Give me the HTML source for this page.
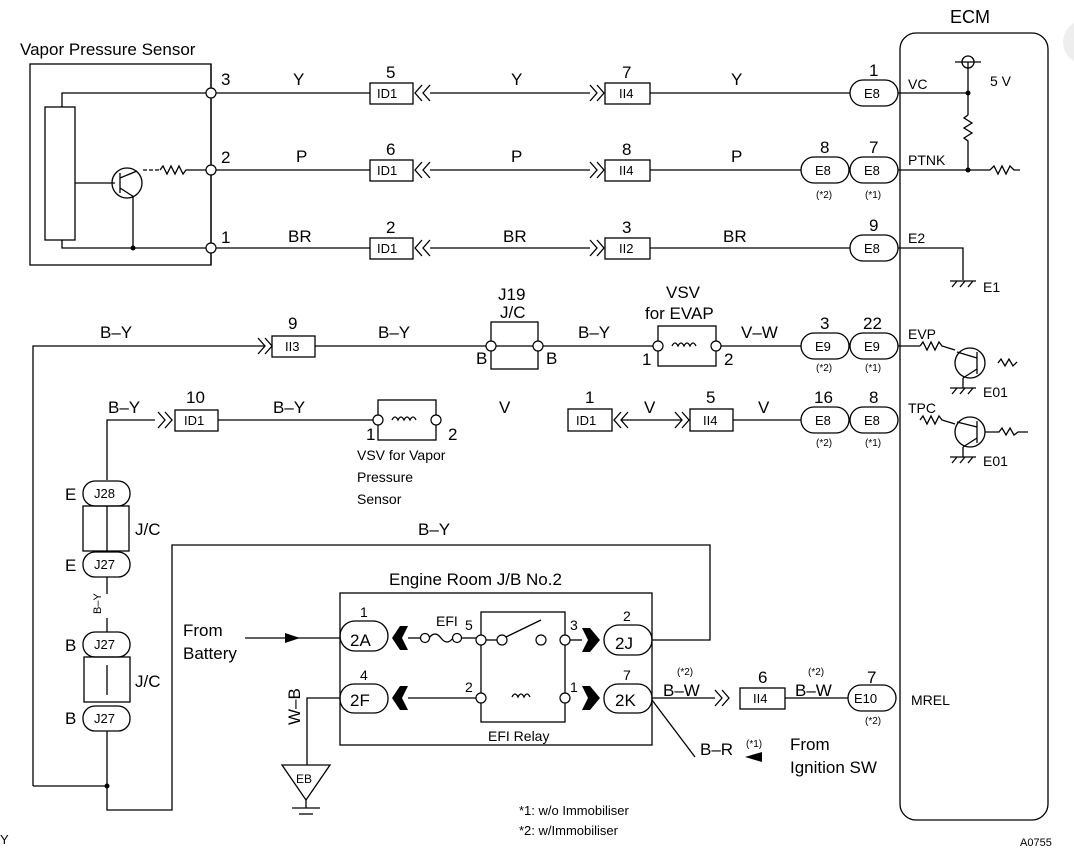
<!DOCTYPE html>
<html><head><meta charset="utf-8"><style>
html,body{margin:0;padding:0;background:#fff;}
svg{display:block;font-family:"Liberation Sans",sans-serif;}
text{fill:#000;}
</style></head><body>
<svg width="1074" height="857" viewBox="0 0 1074 857" xmlns="http://www.w3.org/2000/svg">
<g stroke="#000" stroke-width="1.3" fill="none">
<rect x="30" y="64" width="181" height="201"/>
<rect x="45" y="107" width="30" height="133"/>
<polyline points="62,107 62,93 211,93"/>
<polyline points="62,240 62,248 211,248"/>
<line x1="75" y1="183" x2="115" y2="183"/>
<circle cx="127" cy="183" r="15"/>
<line x1="120" y1="173" x2="120" y2="193"/>
<line x1="120" y1="178" x2="137" y2="171"/>
<line x1="120" y1="188" x2="134" y2="197"/>
<line x1="133" y1="197" x2="133" y2="248"/>
<line x1="143" y1="170" x2="160" y2="170" stroke-dasharray="4,2"/>
<polyline points="160,170 163,166 167,174 171,166 175,174 179,166 183,174 186,170 211,170"/>
<line x1="211" y1="64" x2="211" y2="265"/>
<line x1="211" y1="93" x2="370" y2="93"/><line x1="211" y1="170" x2="370" y2="170"/><line x1="211" y1="248" x2="370" y2="248"/>
<line x1="430" y1="93" x2="590" y2="93"/><line x1="430" y1="170" x2="590" y2="170"/><line x1="430" y1="248" x2="590" y2="248"/>
<line x1="650" y1="93" x2="850" y2="93"/><line x1="650" y1="170" x2="801" y2="170"/><line x1="650" y1="248" x2="850" y2="248"/>
<rect x="370" y="83" width="43" height="21"/><rect x="370" y="160" width="43" height="21"/><rect x="370" y="238" width="43" height="21"/>
<rect x="605" y="83" width="45" height="21"/><rect x="605" y="160" width="45" height="21"/><rect x="605" y="238" width="45" height="21"/>
<path d="M422,85 L415,93 L422,101 M430,85 L423,93 L430,101"/>
<path d="M422,162 L415,170 L422,178 M430,162 L423,170 L430,178"/>
<path d="M422,240 L415,248 L422,256 M430,240 L423,248 L430,256"/>
<path d="M590,85 L597,93 L590,101 M597,85 L604,93 L597,101"/>
<path d="M590,162 L597,170 L590,178 M597,162 L604,170 L597,178"/>
<path d="M590,240 L597,248 L590,256 M597,240 L604,248 L597,256"/>
<rect x="850" y="80" width="48" height="26" rx="13"/>
<rect x="801" y="157" width="48" height="26" rx="13"/><rect x="850" y="157" width="48" height="26" rx="13"/>
<rect x="850" y="235" width="48" height="26" rx="13"/>
<rect x="900" y="33" width="148" height="787" rx="16"/>
<line x1="898" y1="93" x2="968" y2="93"/>
<line x1="968" y1="62" x2="968" y2="115"/>
<circle cx="968" cy="62" r="6"/><line x1="955" y1="62" x2="981" y2="62"/>
<polyline points="968,115 964,118 972,123 964,128 972,133 964,138 968,141 968,170"/>
<line x1="898" y1="170" x2="990" y2="170"/>
<polyline points="990,170 994,166 998,174 1002,166 1006,174 1010,166 1014,170 1020,170"/>
<polyline points="898,248 963,248 963,280"/>
<line x1="950" y1="281" x2="976" y2="281"/><path d="M952,287 l5,-6 M960,287 l5,-6 M968,287 l5,-6"/>
<line x1="898" y1="346" x2="920" y2="346"/>
<polyline points="920,346 923,342 927,350 931,342 935,350 939,342 942,346 955,350"/>
<circle cx="970" cy="363" r="15"/><line x1="977" y1="352" x2="977" y2="374"/>
<line x1="977" y1="358" x2="957" y2="352"/><line x1="977" y1="369" x2="963" y2="378"/>
<line x1="963" y1="378" x2="963" y2="388"/><line x1="950" y1="388" x2="976" y2="388"/><path d="M952,394 l5,-6 M960,394 l5,-6 M968,394 l5,-6"/>
<polyline points="998,363 1001,359 1005,366 1009,359 1013,366 1017,362"/>
<polyline points="920,420 923,416 927,424 931,416 935,424 939,416 942,420 955,424"/>
<circle cx="970" cy="432" r="15"/><line x1="977" y1="421" x2="977" y2="443"/>
<line x1="977" y1="427" x2="957" y2="422"/><line x1="977" y1="438" x2="963" y2="447"/>
<line x1="963" y1="447" x2="963" y2="457"/><line x1="950" y1="457" x2="976" y2="457"/><path d="M952,463 l5,-6 M960,463 l5,-6 M968,463 l5,-6"/>
<polyline points="985,432 999,432 1002,428 1006,435 1010,428 1014,435 1018,432 1028,432"/>
<polyline points="33,786 33,346 265,346"/>
<path d="M258,338 L265,346 L258,354 M265,338 L272,346 L265,354"/>
<rect x="272" y="336" width="43" height="21"/>
<line x1="315" y1="346" x2="491" y2="346"/>
<rect x="491" y="322" width="47" height="47"/>
<line x1="491" y1="346" x2="538" y2="346"/>
<line x1="538" y1="346" x2="658" y2="346"/>
<rect x="658" y="326" width="58" height="40"/>
<line x1="716" y1="346" x2="801" y2="346"/>
<path d="M672,346 q3,-6 6,0 q3,-6 6,0 q3,-6 6,0 q3,-6 6,0"/>
<rect x="801" y="333" width="48" height="26" rx="13"/><rect x="850" y="333" width="48" height="26" rx="13"/>
<polyline points="107,480 107,420 155,420"/>
<path d="M158,412 L165,420 L158,428 M165,412 L172,420 L165,428"/>
<rect x="175" y="410" width="43" height="21"/>
<line x1="218" y1="420" x2="378" y2="420"/>
<rect x="378" y="400" width="58" height="40"/>
<path d="M392,420 q3,-6 6,0 q3,-6 6,0 q3,-6 6,0 q3,-6 6,0"/>
<rect x="568" y="409" width="44" height="22"/>
<path d="M621,412 L614,420 L621,428 M628,412 L621,420 L628,428"/>
<line x1="621" y1="420" x2="682" y2="420"/>
<path d="M675,412 L682,420 L675,428 M682,412 L689,420 L682,428"/>
<rect x="690" y="409" width="43" height="22"/>
<line x1="733" y1="420" x2="801" y2="420"/>
<rect x="801" y="407" width="48" height="26" rx="13"/><rect x="850" y="407" width="48" height="26" rx="13"/>
<rect x="83" y="481" width="47" height="25" rx="12"/>
<rect x="83" y="506" width="46" height="45"/>
<rect x="83" y="552" width="47" height="25" rx="12"/>
<rect x="83" y="632" width="47" height="25" rx="12"/>
<rect x="84" y="657" width="46" height="45"/>
<rect x="83" y="706" width="47" height="25" rx="12"/>
<line x1="107" y1="506" x2="107" y2="551"/><line x1="107" y1="577" x2="107" y2="594"/><line x1="107" y1="618" x2="107" y2="632"/>
<line x1="107" y1="665" x2="107" y2="695"/>
<polyline points="107,731 107,810 172,810 172,545 710,545 710,640 652,640"/>
<line x1="33" y1="786" x2="107" y2="786"/>
<rect x="340" y="593" width="312" height="152"/>
<rect x="340" y="621" width="48" height="30" rx="15"/>
<rect x="340" y="684" width="48" height="29" rx="14"/>
<rect x="604" y="625" width="48" height="30" rx="15"/>
<rect x="604" y="684" width="48" height="29" rx="14"/>
<rect x="481" y="612" width="84" height="110"/>
<line x1="245" y1="638" x2="340" y2="638"/>
<line x1="408" y1="638" x2="421" y2="638"/>
<path d="M429,638 q6,-8 12,0 q6,8 12,0"/>
<line x1="461" y1="638" x2="476" y2="638"/>
<line x1="486" y1="640" x2="497" y2="640"/>
<line x1="506" y1="637" x2="541" y2="620"/>
<line x1="570" y1="640" x2="582" y2="640"/>
<line x1="408" y1="698" x2="476" y2="698"/>
<path d="M512,697 q3,-6 6,0 q3,-6 6,0 q3,-6 6,0"/>
<polyline points="340,698 307,698 307,765"/>
<polygon points="282,765 330,765 306,800"/>
<line x1="306" y1="800" x2="306" y2="808"/><line x1="292" y1="808" x2="320" y2="808"/><line x1="299" y1="814" x2="313" y2="814"/>
<line x1="652" y1="698" x2="715" y2="698"/>
<path d="M715,690 L722,698 L715,706 M722,690 L729,698 L722,706"/>
<rect x="740" y="688" width="45" height="21"/>
<line x1="785" y1="698" x2="848" y2="698"/>
<rect x="848" y="685" width="48" height="26" rx="13"/>
<line x1="652" y1="700" x2="695" y2="757"/>
</g>
<g fill="#fff" stroke="#000" stroke-width="1.2">
<circle cx="211" cy="93" r="5"/><circle cx="211" cy="170" r="5"/><circle cx="211" cy="248" r="5"/>
<circle cx="491" cy="346" r="5"/><circle cx="538" cy="346" r="5"/>
<circle cx="658" cy="346" r="5"/><circle cx="716" cy="346" r="5"/>
<circle cx="378" cy="420" r="5"/><circle cx="436" cy="420" r="5"/>
<circle cx="425" cy="638" r="4.5"/><circle cx="457" cy="638" r="4.5"/>
<circle cx="481" cy="640" r="5"/><circle cx="502" cy="640" r="5"/><circle cx="541" cy="640" r="5"/><circle cx="565" cy="640" r="5"/>
<circle cx="481" cy="698" r="5"/><circle cx="565" cy="698" r="5"/>
</g>
<g fill="#000" stroke="none">
<circle cx="133" cy="248" r="2.5"/><circle cx="968" cy="93" r="2.5"/><circle cx="968" cy="170" r="2.5"/><circle cx="107" cy="786" r="2.5"/>
<polygon points="392,638 400,626 408,626 402,638 408,650 400,650"/>
<polygon points="392,698 400,686 408,686 402,698 408,710 400,710"/>
<polygon points="582,628 590,628 600,640 590,652 582,652 588,640"/>
<polygon points="582,686 590,686 600,698 590,710 582,710 588,698"/>
<polygon points="285,633 300,638 285,643"/>
<polygon points="745,757 762,752 762,762"/>
</g>
<circle cx="1085" cy="42" r="22" fill="#eee"/>
<g font-size="17">
<text x="20" y="55">Vapor Pressure Sensor</text>
<text x="221" y="85">3</text><text x="221" y="163">2</text><text x="221" y="243">1</text>
<text x="293" y="85">Y</text><text x="296" y="162">P</text><text x="288" y="242">BR</text>
<text x="511" y="85">Y</text><text x="511" y="162">P</text><text x="503" y="242">BR</text>
<text x="731" y="85">Y</text><text x="731" y="162">P</text><text x="723" y="242">BR</text>
<text x="386" y="78">5</text><text x="386" y="155">6</text><text x="386" y="233">2</text>
<text x="622" y="78">7</text><text x="622" y="155">8</text><text x="622" y="233">3</text>
<text x="869" y="76">1</text><text x="820" y="153">8</text><text x="869" y="153">7</text><text x="869" y="231">9</text>
<text x="950" y="23" font-size="18">ECM</text>
<text x="100" y="338">B–Y</text><text x="378" y="338">B–Y</text><text x="578" y="338">B–Y</text>
<text x="288" y="329">9</text>
<text x="498" y="300">J19</text><text x="500" y="318">J/C</text>
<text x="476" y="364">B</text><text x="546" y="364">B</text>
<text x="666" y="298">VSV</text><text x="645" y="319">for EVAP</text>
<text x="642" y="365">1</text><text x="724" y="365">2</text>
<text x="741" y="338">V–W</text>
<text x="820" y="329">3</text><text x="863" y="329">22</text>
<text x="108" y="413">B–Y</text><text x="273" y="413">B–Y</text>
<text x="186" y="403">10</text>
<text x="366" y="440">1</text><text x="448" y="440">2</text>
<text x="499" y="413">V</text>
<text x="585" y="403">1</text><text x="644" y="413">V</text><text x="706" y="403">5</text><text x="758" y="413">V</text>
<text x="814" y="403">16</text><text x="869" y="403">8</text>
<text x="65" y="500">E</text><text x="65" y="571">E</text><text x="65" y="651">B</text><text x="65" y="724">B</text>
<text x="135" y="535">J/C</text><text x="135" y="687">J/C</text>
<text x="418" y="535">B–Y</text>
<text x="389" y="585">Engine Room J/B No.2</text>
<text x="183" y="636">From</text><text x="183" y="659">Battery</text>
<text x="350" y="646">2A</text><text x="350" y="706">2F</text><text x="615" y="649">2J</text><text x="615" y="706">2K</text>
<text x="663" y="696">B–W</text><text x="795" y="696">B–W</text>
<text x="758" y="683">6</text><text x="867" y="683">7</text>
<text x="700" y="755">B–R</text>
<text x="790" y="750">From</text><text x="790" y="773">Ignition SW</text>
<text x="300" y="725" transform="rotate(-90 300 725)">W–B</text>
</g>
<g font-size="14">
<text x="908" y="89">VC</text><text x="990" y="86">5 V</text><text x="908" y="165">PTNK</text><text x="908" y="243">E2</text>
<text x="983" y="292">E1</text><text x="908" y="339">EVP</text><text x="983" y="397">E01</text>
<text x="908" y="413">TPC</text><text x="983" y="466">E01</text>
<text x="911" y="705">MREL</text>
<text x="436" y="626">EFI</text><text x="465" y="630">5</text><text x="570" y="630">3</text>
<text x="465" y="692">2</text><text x="570" y="692">1</text>
<text x="360" y="617">1</text><text x="360" y="680">4</text><text x="623" y="621">2</text><text x="623" y="680">7</text>
<text x="488" y="741">EFI Relay</text>
<text x="357" y="460">VSV for Vapor</text><text x="357" y="482">Pressure</text><text x="357" y="504">Sensor</text>
<text x="296" y="783" font-size="12">EB</text>
<text x="377" y="98" font-size="13">ID1</text><text x="377" y="175" font-size="13">ID1</text><text x="377" y="253" font-size="13">ID1</text>
<text x="619" y="98" font-size="13">II4</text><text x="619" y="175" font-size="13">II4</text><text x="619" y="253" font-size="13">II2</text>
<text x="864" y="98" font-size="13">E8</text><text x="815" y="175" font-size="13">E8</text><text x="864" y="175" font-size="13">E8</text><text x="864" y="253" font-size="13">E8</text>
<text x="285" y="351" font-size="13">II3</text>
<text x="815" y="351" font-size="13">E9</text><text x="864" y="351" font-size="13">E9</text>
<text x="184" y="425" font-size="13">ID1</text><text x="576" y="425" font-size="13">ID1</text><text x="703" y="425" font-size="13">II4</text>
<text x="815" y="425" font-size="13">E8</text><text x="864" y="425" font-size="13">E8</text>
<text x="94" y="498" font-size="13">J28</text><text x="94" y="569" font-size="13">J27</text><text x="94" y="649" font-size="13">J27</text><text x="94" y="723" font-size="13">J27</text>
<text x="753" y="703" font-size="13">II4</text><text x="854" y="703" font-size="13">E10</text>
<text x="101" y="614" font-size="11" transform="rotate(-90 101 614)">B–Y</text>
</g>
<g font-size="10">
<text x="816" y="198">(*2)</text><text x="865" y="198">(*1)</text>
<text x="816" y="371">(*2)</text><text x="865" y="371">(*1)</text>
<text x="816" y="446">(*2)</text><text x="865" y="446">(*1)</text>
<text x="677" y="675">(*2)</text><text x="808" y="675">(*2)</text><text x="865" y="724">(*2)</text>
<text x="746" y="747">(*1)</text>
</g>
<g font-size="13">
<text x="519" y="815">*1: w/o Immobiliser</text>
<text x="519" y="835">*2: w/Immobiliser</text>
<text x="1020" y="846" font-size="11">A0755</text>
<text x="0" y="844">Y</text>
</g>
</svg>
</body></html>
